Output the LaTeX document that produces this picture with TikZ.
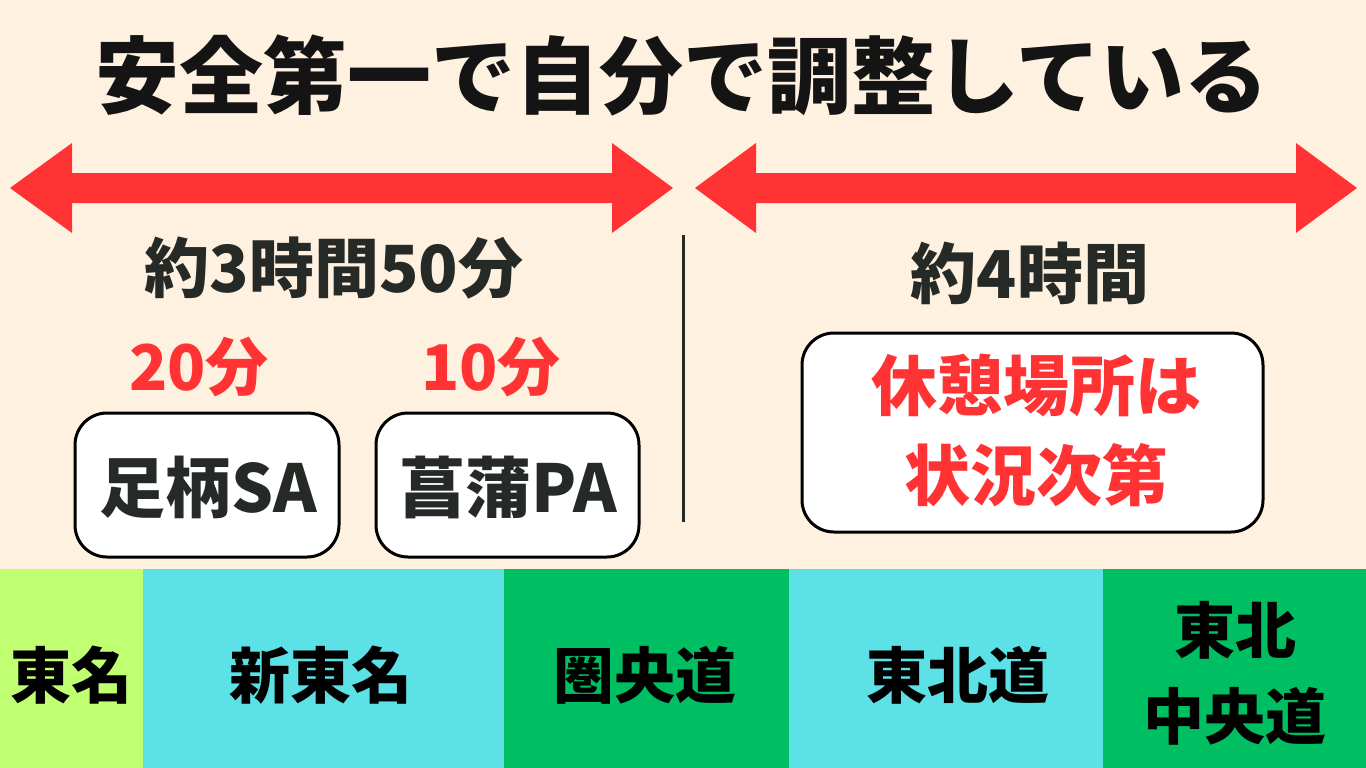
\documentclass[tikz,border=0pt]{standalone}
\usepackage{fontspec}
\setmainfont{Noto Sans CJK JP}
\definecolor{bg}{HTML}{FEF1E0}
\definecolor{redc}{HTML}{FF3333}
\definecolor{darkc}{HTML}{262A26}
\definecolor{lgreen}{HTML}{C1FF72}
\definecolor{cyanc}{HTML}{5CE1E6}
\definecolor{greenc}{HTML}{00BF63}
\tikzset{
  txt/.style={anchor=base, inner sep=0pt, font=\bfseries\fontsize{#1}{#1}\selectfont},
  txt/.default=56,
  box/.style={draw=black, line width=3pt, fill=white, rounded corners=32pt},
  bigarrow/.style={fill=redc, draw=none}
}
\begin{document}
\begin{tikzpicture}[x=1pt, y=-1pt]
\useasboundingbox (0,0) rectangle (1366,768);
\fill[bg] (0,0) rectangle (1366,768);
% title
\node[txt=84, text=black!92] (title) at (682,107) {安全第一で自分で調整している};
% arrows
\fill[bigarrow] (10,188) -- (72,143) -- (72,173) -- (612,173) -- (612,143) -- (673,188)
  -- (612,233) -- (612,203) -- (72,203) -- (72,233) -- cycle;
\fill[bigarrow] (695,188) -- (756,143) -- (756,173) -- (1296,173) -- (1296,143) -- (1357,188)
  -- (1296,233) -- (1296,203) -- (756,203) -- (756,233) -- cycle;
% divider
\coordinate (dtop) at (683,235);
\coordinate (dbot) at (683,522);
\draw[line width=3pt, darkc] (dtop) -- (dbot);
% durations
\node[txt=65, text=darkc] (t1) at (334,292) {約3時間50分};
\node[txt=66, text=darkc] (t2) at (1030,298) {約4時間};
\node[txt=63, text=redc] (m1) at (199,390) {20分};
\node[txt=63, text=redc] (m2) at (491,390) {10分};
% boxes
\draw[box] (75,413) rectangle (339,557);
\draw[box] (376,413) rectangle (639,557);
\draw[box] (802,333) rectangle (1263,532);
\node[txt=66, text=darkc] (sa) at (208,512) {足柄SA};
\node[txt=66, text=darkc] (pa) at (508,512) {菖蒲PA};
\node[txt=66, text=redc] (r1) at (1036,410) {休憩場所は};
\node[txt=66, text=redc] (r2) at (1036,500) {状況次第};
% bands
\fill[lgreen] (0,569) rectangle (143,768);
\fill[cyanc] (143,569) rectangle (504,768);
\fill[greenc] (504,569) rectangle (789,768);
\fill[cyanc] (789,569) rectangle (1103,768);
\fill[greenc] (1103,569) rectangle (1366,768);
\node[txt=61, text=black] (b1) at (71,698) {東名};
\node[txt=61, text=black] (b2) at (321,698) {新東名};
\node[txt=61, text=black] (b3) at (645,698) {圏央道};
\node[txt=61, text=black] (b4) at (958,698) {東北道};
\node[txt=61, text=black] (b5a) at (1235,653) {東北};
\node[txt=61, text=black] (b5b) at (1235,739) {中央道};
\end{tikzpicture}
\end{document}
